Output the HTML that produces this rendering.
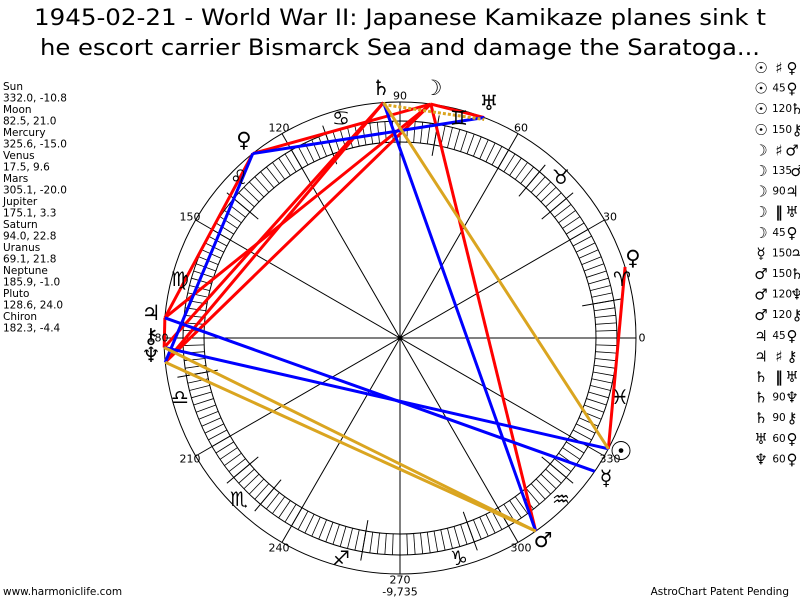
<!DOCTYPE html>
<html><head><meta charset="utf-8"><style>
html,body{margin:0;padding:0;background:#fff;}
svg{display:block;}
text{font-family:"DejaVu Sans","Liberation Sans",sans-serif;fill:#000;}
.g{font-size:21px;text-anchor:middle;dominant-baseline:central;}
.z{font-size:20px;text-anchor:middle;dominant-baseline:central;}
.d{font-size:11px;text-anchor:middle;dominant-baseline:central;}
.l{font-size:10.5px;}
.a,.b{font-size:15px;text-anchor:middle;dominant-baseline:central;}
.m{font-size:10.5px;text-anchor:middle;dominant-baseline:central;}
</style></head><body>
<svg id="s" width="800" height="600" viewBox="0 0 800 600" xmlns="http://www.w3.org/2000/svg">
<text x="400" y="25" font-size="22" text-anchor="middle" textLength="732" lengthAdjust="spacingAndGlyphs">1945-02-21 - World War II: Japanese Kamikaze planes sink t</text>
<text x="400" y="55" font-size="22" text-anchor="middle" textLength="720" lengthAdjust="spacingAndGlyphs">he escort carrier Bismarck Sea and damage the Saratoga...</text>
<g id="ring"></g>
<g id="asp"></g>
<g class="l">
<text x="3" y="90">Sun</text><text x="3" y="101.5">332.0, -10.8</text>
<text x="3" y="113">Moon</text><text x="3" y="124.5">82.5, 21.0</text>
<text x="3" y="136">Mercury</text><text x="3" y="147.5">325.6, -15.0</text>
<text x="3" y="159">Venus</text><text x="3" y="170.5">17.5, 9.6</text>
<text x="3" y="182">Mars</text><text x="3" y="193.5">305.1, -20.0</text>
<text x="3" y="205">Jupiter</text><text x="3" y="216.5">175.1, 3.3</text>
<text x="3" y="228">Saturn</text><text x="3" y="239.5">94.0, 22.8</text>
<text x="3" y="251">Uranus</text><text x="3" y="262.5">69.1, 21.8</text>
<text x="3" y="274">Neptune</text><text x="3" y="285.5">185.9, -1.0</text>
<text x="3" y="297">Pluto</text><text x="3" y="308.5">128.6, 24.0</text>
<text x="3" y="320">Chiron</text><text x="3" y="331.5">182.3, -4.4</text>
</g>
<g>
<text class="d" x="642" y="338">0</text>
<text class="d" x="610" y="217">30</text>
<text class="d" x="521" y="128">60</text>
<text class="d" x="400" y="96">90</text>
<text class="d" x="279" y="128">120</text>
<text class="d" x="190" y="217">150</text>
<text class="d" x="158" y="338">180</text>
<text class="d" x="190" y="459">210</text>
<text class="d" x="279" y="548">240</text>
<text class="d" x="400" y="580">270</text>
<text class="d" x="521" y="548">300</text>
<text class="d" x="610" y="459">330</text>
<text class="d" x="400" y="592" font-size="12">-9,735</text>
</g>
<g class="z">
<text x="622" y="279">♈&#xFE0E;</text><text x="561" y="177">♉&#xFE0E;</text><text x="459" y="118">♊&#xFE0E;</text>
<text x="341" y="118">♋&#xFE0E;</text><text x="239" y="177">♌&#xFE0E;</text><text x="180" y="279">♍&#xFE0E;</text>
<text x="180" y="397">♎&#xFE0E;</text><text x="239" y="499">♏&#xFE0E;</text><text x="341" y="558">♐&#xFE0E;</text>
<text x="459" y="558">♑&#xFE0E;</text><text x="561" y="499">♒&#xFE0E;</text><text x="620" y="397">♓&#xFE0E;</text>
</g>
<g class="g">
<text x="621" y="452" font-size="26" font-weight="bold">☉</text>
<text x="433" y="88">☽</text>
<text x="606" y="478">☿</text>
<text x="633" y="258">♀</text>
<text x="543" y="540">♂</text>
<text x="151" y="313">♃</text>
<text x="381" y="88">♄</text>
<text x="489" y="103">♅</text>
<text x="151" y="355">♆</text>
<text x="244" y="140">♀</text>
<text x="151" y="336">⚷</text>
</g>
<g id="list"></g>
<text class="l" x="3" y="595" font-size="11">www.harmoniclife.com</text>
<text class="l" x="789" y="595" font-size="11" text-anchor="end">AstroChart Patent Pending</text>
</svg>
<script>
var NS="http://www.w3.org/2000/svg",cx=400,cy=338;
function el(p,t,a,txt){var e=document.createElementNS(NS,t);for(var k in a)e.setAttribute(k,a[k]);if(txt!==undefined)e.textContent=txt;p.appendChild(e);return e;}
function pt(a,r){var t=a*Math.PI/180;return [cx+r*Math.cos(t),cy-r*Math.sin(t)];}
var ring=document.getElementById('ring');
el(ring,'circle',{cx:cx,cy:cy,r:236,fill:'none',stroke:'#000','stroke-width':1});
el(ring,'circle',{cx:cx,cy:cy,r:217,fill:'none',stroke:'#000','stroke-width':1});
el(ring,'circle',{cx:cx,cy:cy,r:196,fill:'none',stroke:'#000','stroke-width':1});
for(var a=0;a<360;a+=2){var p=pt(a,196),q=pt(a,217);el(ring,'line',{x1:p[0],y1:p[1],x2:q[0],y2:q[1],stroke:'#000','stroke-width':0.8});}
for(var a=0;a<180;a+=30){var p=pt(a,236),q=pt(a+180,236);el(ring,'line',{x1:p[0],y1:p[1],x2:q[0],y2:q[1],stroke:'#000','stroke-width':1});}
[80,50,40,10,110,140,260,230,220,190,290,320].forEach(function(a){var p=pt(a,185),q=pt(a,226);el(ring,'line',{x1:p[0],y1:p[1],x2:q[0],y2:q[1],stroke:'#000','stroke-width':1});});
el(ring,'circle',{cx:cx,cy:cy,r:2.5,fill:'#000'});
var L={su:332,mo:82.5,me:325.6,ve:17.5,ma:305.1,ju:175.1,sa:94,ur:69.1,ne:185.9,pl:128.6,ch:182.3};
var R='#ff0000',B='#0000ff',G='#daa520';
var asp=[['su','ve',R],['mo','ma',R],['mo','ju',R],['mo','ur',R],['mo','pl',R],['ju','pl',R],['ju','ch',R],['sa','ne',R],['sa','ch',R],['mo','ne',R],
['su','ch',B],['ju','me',B],['sa','ma',B],['pl','ur',B],['pl','ne',B],
['su','sa',G],['ma','ne',G],['ma','ch',G]];
var g=document.getElementById('asp');
asp.forEach(function(x){var p=pt(L[x[0]],236),q=pt(L[x[1]],236);el(g,'line',{x1:p[0],y1:p[1],x2:q[0],y2:q[1],stroke:x[2],'stroke-width':3});});
var p=pt(94,236),q=pt(69.1,236);el(g,'line',{x1:p[0],y1:p[1]+2,x2:q[0],y2:q[1]+2,stroke:G,'stroke-width':3,'stroke-dasharray':'3,2'});
var rows=[['☉','♯','♀'],['☉','45','♀'],['☉','120','♄'],['☉','150','⚷'],['☽','♯','♂'],['☽','135','♂'],['☽','90','♃'],['☽','‖','♅'],['☽','45','♀'],['☿','150','♃'],['♂','150','♄'],['♂','120','♆'],['♂','120','⚷'],['♃','45','♀'],['♃','♯','⚷'],['♄','‖','♅'],['♄','90','♆'],['♄','90','⚷'],['♅','60','♀'],['♆','60','♀']];
var lg=document.getElementById('list');
rows.forEach(function(r,i){var y=68+i*20.6;
el(lg,'text',{'class':'a',x:761,y:y},r[0]);
var big=r[1].length<2&&isNaN(+r[1]);
el(lg,'text',{'class':big?'a':'m',x:(r[1].length==3?782:779),y:y,'font-weight':big?'bold':'normal'},r[1]);
el(lg,'text',{'class':'b',x:(r[1].length==3?797:792),y:y},r[2]);});
</script>
</body></html>
